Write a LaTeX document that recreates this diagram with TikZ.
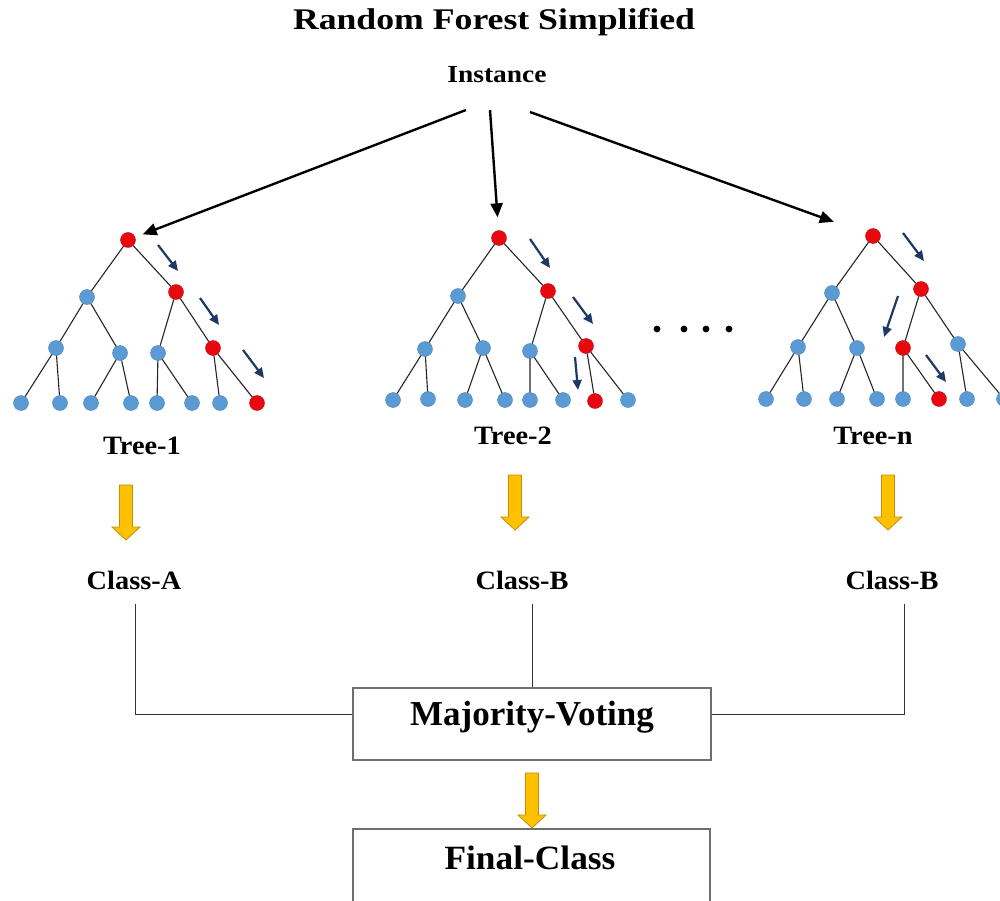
\documentclass[tikz,border=0pt]{standalone}
\usepackage{fontspec}
\setmainfont{Liberation Serif}
\usetikzlibrary{arrows.meta}
\definecolor{nred}{RGB}{232,8,16}
\definecolor{nblue}{RGB}{91,155,213}
\definecolor{navy}{RGB}{31,56,100}
\definecolor{ygold}{RGB}{255,192,0}
\definecolor{ygoldd}{RGB}{191,144,0}
\definecolor{boxgray}{RGB}{110,110,110}
\begin{document}
\begin{tikzpicture}[x=1pt,y=-1pt,
  bn/.style={circle,fill=nblue,draw=nblue!85!black,line width=0.4pt,inner sep=0pt,minimum size=15pt},
  rn/.style={circle,fill=nred,draw=nred!85!black,line width=0.4pt,inner sep=0pt,minimum size=15pt},
  ed/.style={draw=black!85,line width=1.1pt},
  blk/.style={draw=black,line width=2.4pt,-{Triangle[length=14pt,width=12pt]}},
  nav/.style={draw=navy,line width=2.2pt,-{Triangle[length=10pt,width=9pt]}},
  lbl/.style={font=\bfseries\fontsize{26.5}{30}\selectfont,inner sep=0pt,xscale=1.07},
  big/.style={font=\bfseries\fontsize{35}{40}\selectfont,inner sep=0pt},
  box/.style={draw=boxgray,line width=1.3pt,rectangle,inner sep=0pt},
  cl/.style={draw=black!80,line width=1pt},
  yarr/.pic={\filldraw[fill=ygold,draw=ygoldd,line width=0.8pt]
     (-6.5,0) -- (6.5,0) -- (6.5,42) -- (14,42) -- (0,55) -- (-14,42) -- (-6.5,42) -- cycle;}
]
\useasboundingbox (0,0) rectangle (1000,901);
\fill[white] (0,0) rectangle (1000,901);

% titles
\node[inner sep=0pt,font=\bfseries\fontsize{30}{36}\selectfont,xscale=1.19] (title) at (494,22) {Random Forest Simplified};
\node[inner sep=0pt,font=\bfseries\fontsize{24.5}{30}\selectfont,xscale=1.12] (inst) at (497,75) {Instance};

% ---------- Tree 1 ----------
\node[rn] (t1r) at (128,240) {};
\node[bn] (t1a) at (87,297) {};
\node[rn] (t1b) at (176,292) {};
\node[bn] (t1c) at (56,348) {};
\node[bn] (t1d) at (120,353) {};
\node[bn] (t1e) at (158,353) {};
\node[rn] (t1f) at (213,348) {};
\node[bn] (t1l1) at (21,403) {};
\node[bn] (t1l2) at (60,403) {};
\node[bn] (t1l3) at (91,403) {};
\node[bn] (t1l4) at (131,403) {};
\node[bn] (t1l5) at (157,403) {};
\node[bn] (t1l6) at (192,403) {};
\node[bn] (t1l7) at (220,403) {};
\node[rn] (t1l8) at (257,403) {};
\path[ed] (t1r)--(t1a) (t1r)--(t1b) (t1a)--(t1c) (t1a)--(t1d) (t1b)--(t1e) (t1b)--(t1f)
  (t1c)--(t1l1) (t1c)--(t1l2) (t1d)--(t1l3) (t1d)--(t1l4) (t1e)--(t1l5) (t1e)--(t1l6)
  (t1f)--(t1l7) (t1f)--(t1l8);
\coordinate (a1s) at (158,245); \coordinate (a1e) at (178,271);
\coordinate (a2s) at (200,298); \coordinate (a2e) at (219,325);
\coordinate (a3s) at (243,350); \coordinate (a3e) at (264,378);
\draw[nav] (a1s)--(a1e); \draw[nav] (a2s)--(a2e); \draw[nav] (a3s)--(a3e);

% ---------- Tree 2 ----------
\node[rn] (t2r) at (499,238) {};
\node[bn] (t2a) at (458,296) {};
\node[rn] (t2b) at (548,291) {};
\node[bn] (t2c) at (425,349) {};
\node[bn] (t2d) at (483,348) {};
\node[bn] (t2e) at (530,351) {};
\node[rn] (t2f) at (586,346) {};
\node[bn] (t2l1) at (393,400) {};
\node[bn] (t2l2) at (428,399) {};
\node[bn] (t2l3) at (465,400) {};
\node[bn] (t2l4) at (505,400) {};
\node[bn] (t2l5) at (530,400) {};
\node[bn] (t2l6) at (563,400) {};
\node[rn] (t2l7) at (595,401) {};
\node[bn] (t2l8) at (628,400) {};
\path[ed] (t2r)--(t2a) (t2r)--(t2b) (t2a)--(t2c) (t2a)--(t2d) (t2b)--(t2e) (t2b)--(t2f)
  (t2c)--(t2l1) (t2c)--(t2l2) (t2d)--(t2l3) (t2d)--(t2l4) (t2e)--(t2l5) (t2e)--(t2l6)
  (t2f)--(t2l7) (t2f)--(t2l8);
\coordinate (b1s) at (530,239); \coordinate (b1e) at (550,268);
\coordinate (b2s) at (573,297); \coordinate (b2e) at (593,324);
\coordinate (b3s) at (575,357); \coordinate (b3e) at (578,390);
\draw[nav] (b1s)--(b1e); \draw[nav] (b2s)--(b2e); \draw[nav] (b3s)--(b3e);

% dots
\foreach \x in {657,684,706,729}
  \fill (\x,329) circle (3.4pt);

% ---------- Tree n ----------
\node[rn] (t3r) at (873,236) {};
\node[bn] (t3a) at (832,293) {};
\node[rn] (t3b) at (921,289) {};
\node[bn] (t3c) at (798,347) {};
\node[bn] (t3d) at (857,348) {};
\node[rn] (t3e) at (903,348) {};
\node[bn] (t3f) at (958,344) {};
\node[bn] (t3l1) at (766,399) {};
\node[bn] (t3l2) at (804,399) {};
\node[bn] (t3l3) at (837,399) {};
\node[bn] (t3l4) at (877,399) {};
\node[bn] (t3l5) at (903,399) {};
\node[rn] (t3l6) at (939,399) {};
\node[bn] (t3l7) at (967,399) {};
\node[bn] (t3l8) at (1004,399) {};
\path[ed] (t3r)--(t3a) (t3r)--(t3b) (t3a)--(t3c) (t3a)--(t3d) (t3b)--(t3e) (t3b)--(t3f)
  (t3c)--(t3l1) (t3c)--(t3l2) (t3d)--(t3l3) (t3d)--(t3l4) (t3e)--(t3l5) (t3e)--(t3l6)
  (t3f)--(t3l7) (t3f)--(t3l8);
\coordinate (c1s) at (903,233); \coordinate (c1e) at (924,261);
\coordinate (c2s) at (898,296); \coordinate (c2e) at (884,337);
\coordinate (c3s) at (926,355); \coordinate (c3e) at (946,382);
\draw[nav] (c1s)--(c1e); \draw[nav] (c2s)--(c2e); \draw[nav] (c3s)--(c3e);

% instance arrows
\coordinate (s1) at (466,110);
\coordinate (s2) at (490,110);
\coordinate (s3) at (530,112);
\draw[blk,shorten >=8pt] (s1) -- (t1r);
\draw[blk,shorten >=13pt] (s2) -- (t2r);
\draw[blk,shorten >=34pt] (s3) -- (t3r);

% tree labels
\node[lbl] (tl1) at (142,446) {Tree-1};
\node[lbl] (tl2) at (513,436) {Tree-2};
\node[lbl] (tl3) at (873,436) {Tree-n};

% yellow arrows
\pic at (126,485) {yarr};
\pic at (515,475) {yarr};
\pic at (888,475) {yarr};
\pic at (532,773) {yarr};

% class labels
\node[lbl] (ca) at (134,580) {Class-A};
\node[lbl] (cb) at (522,580) {Class-B};
\node[lbl] (cc) at (892,580) {Class-B};

% boxes
\node[box,minimum width=358pt,minimum height=72pt] (mv) at (532,724) {};
\node[big] (mvt) at (532,717) {Majority-Voting};
\node[box,minimum width=357pt,minimum height=80pt] (fc) at (531.5,869) {};
\node[big,font=\bfseries\fontsize{34}{40}\selectfont,xscale=1.04] (fct) at (530,858) {Final-Class};

% connectors
\draw[cl] ([xshift=1pt,yshift=-14pt]ca.south) |- ([yshift=10pt]mv.west);
\draw[cl] ([yshift=-14pt]cb.south -| mv.north) -- (mv.north);
\draw[cl] ([xshift=12pt,yshift=-14pt]cc.south) |- ([yshift=10pt]mv.east);
\end{tikzpicture}
\end{document}
